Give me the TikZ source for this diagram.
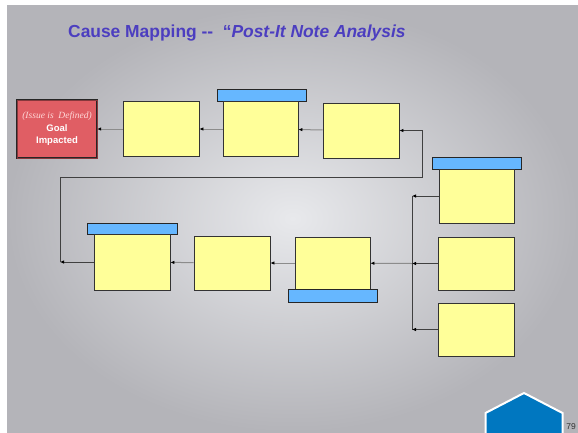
\documentclass[tikz,border=0pt]{standalone}
\usepackage{fontspec}
\setmainfont{Liberation Serif}
\setsansfont{Liberation Sans}
\usepackage{tikz}
\usetikzlibrary{arrows.meta,positioning}
\pgfdeclarelayer{background layer}
\pgfsetlayers{background layer,main}
\definecolor{slidegray}{RGB}{180,180,185}
\definecolor{slidelight}{RGB}{232,233,236}
\definecolor{titlecol}{RGB}{76,62,192}
\definecolor{postit}{RGB}{255,255,153}
\definecolor{capblue}{RGB}{102,183,255}
\definecolor{goalred}{RGB}{224,94,100}
\definecolor{hexblue}{RGB}{0,119,192}

\begin{document}
\begin{tikzpicture}[x=1pt,y=-1pt]
\tikzstyle{note}=[draw=black!80,fill=postit,line width=0.8pt,minimum width=76pt,minimum height=55pt,inner sep=0pt]
\tikzstyle{capbar}=[draw=black!85,fill=capblue,line width=0.8pt,minimum width=89pt,minimum height=12pt,inner sep=0pt]
\tikzstyle{arrow}=[line width=1pt,black!45,-{Latex[length=4pt,width=3.5pt,color=black]}]
\tikzstyle{link}=[line width=1pt,black!75]
\useasboundingbox (0,0) rectangle (578,432);
\clip (0,0) rectangle (578,432);
\begin{pgfonlayer}{background layer}
\fill [white] (0,0) rectangle (578,432);
\shade [inner color=slidelight,outer color=slidegray] (7,5) rectangle (578,432);
\end{pgfonlayer}
% title
\node [anchor=base west,inner sep=0pt,text=titlecol,font=\sffamily\bfseries\fontsize{17.4}{20}\selectfont] (title) at (68,37)
  {Cause Mapping {-}{-}\ \ ``\textit{Post-It Note Analysis}};
% top row
\node [draw=black!85,double=goalred!60!black,double distance=0.8pt,fill=goalred,minimum width=80pt,minimum height=58pt,inner sep=0pt,align=center,text=white] (goal) at (57,129)
  {{\fontsize{9.5}{11}\selectfont\itshape\color{white!85!red}(Issue is\ \ Defined)}\\[1pt]
   {\sffamily\bfseries\fontsize{9.5}{11.5}\selectfont Goal}\\
   {\sffamily\bfseries\fontsize{9.5}{11.5}\selectfont Impacted}};
\node [note] (n1) at (161,129) {};
\node [capbar] (c2) at (261.5,95) {};
\node [note,minimum width=75pt] (n2) at (260.5,129) {};
\node [note] (n3) at (361,130.5) {};
% right column
\node [capbar] (c7) at (476.5,163) {};
\node [note,minimum width=75pt,minimum height=54pt] (n7) at (476.5,196) {};
\node [note,minimum height=53pt] (n8) at (476,263.5) {};
\node [note,minimum height=53pt] (n9) at (476,329.5) {};
% bottom row
\node [capbar,minimum width=90pt,minimum height=11pt] (c6) at (132,228.5) {};
\node [note,minimum height=56pt] (n6) at (132,262) {};
\node [note,minimum height=54pt] (n5) at (232,263) {};
\node [note,minimum width=75pt,minimum height=52pt] (n4) at (332.5,263) {};
\node [capbar,minimum height=13pt] (c4) at (332.5,295.5) {};
% joints
\coordinate (j1) at (60,262);
\coordinate (j2) at (422,177);
\coordinate (r7) at (412,196);
\coordinate (r8) at (412,263.5);
\coordinate (r9) at (412,329.5);
\draw [arrow] (n1) -- (goal);
\draw [arrow] (n2) -- (n1);
\draw [arrow] (n3) -- (n2);
\draw [arrow] (n5) -- (n6);
\draw [arrow] (n4) -- (n5);
\draw [arrow] (r8) -- (n4);
\draw [arrow,black!75] (n6.west) -- (j1);
\draw [arrow,black!75] (j1) |- (j2) |- (n3.east);
\draw [link] (r7) -- (r9);
\draw [arrow,black!75] (n7.west |- r7) -- (r7);
\draw [arrow,black!75] (n8.west) -- (r8);
\draw [arrow,black!75] (n9.west) -- (r9);
% corner badge
\draw [white,line width=2pt,fill=hexblue] (524,393) -- (562.5,413) -- (562.5,460) -- (485.5,460) -- (485.5,413) -- cycle;
\node [anchor=base,inner sep=0pt,font=\sffamily\fontsize{8.5}{10}\selectfont,text=black!80] (page) at (571,429) {79};
\end{tikzpicture}
\end{document}
